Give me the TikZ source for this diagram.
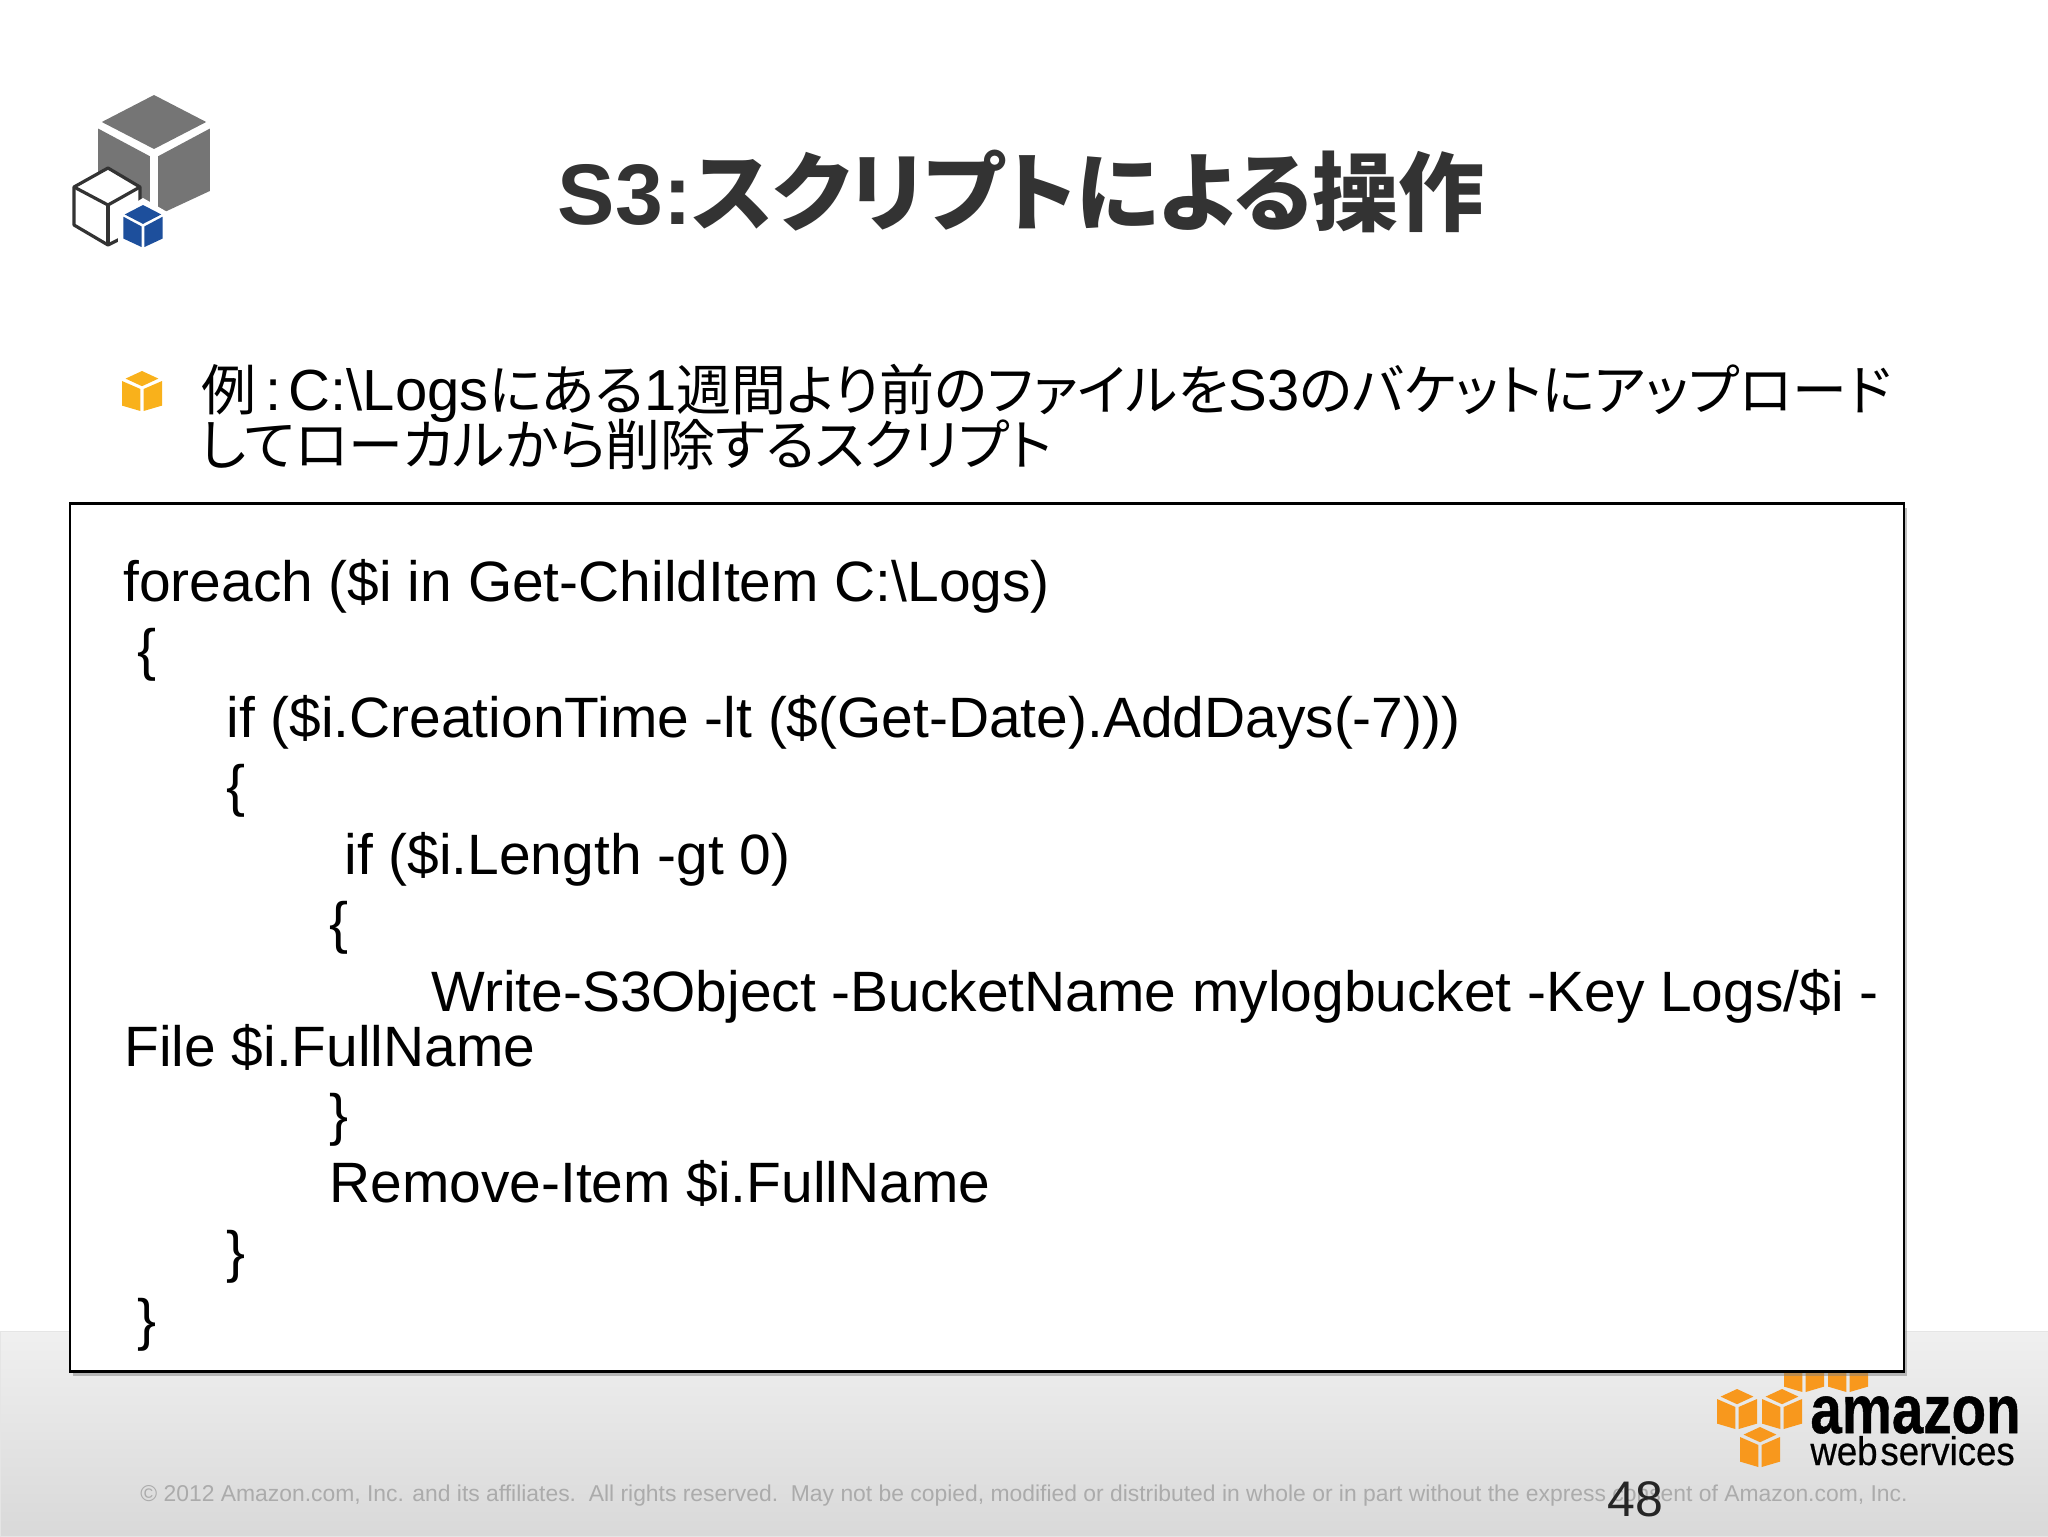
\documentclass[tikz,border=0pt]{standalone}
\usepackage{fontspec}
\setmainfont{Liberation Sans}
\newfontfamily\cjk[RawFeature=+palt]{Noto Sans CJK JP}
\newfontfamily\awsfont[FakeBold=0.5]{Liberation Sans}
\newfontfamily\awsbold[FakeBold=0.8]{Liberation Sans Bold}
\usetikzlibrary{shadows}
\definecolor{cubegray}{HTML}{757575}
\definecolor{cubeblue}{HTML}{1D4F9C}
\definecolor{cubeyellow}{HTML}{F9B11B}
\definecolor{cubeorange}{HTML}{F8981D}
\definecolor{titlegray}{HTML}{333333}
\definecolor{footgray}{HTML}{ABABAB}
\def\isocube[#1](#2,#3)(#4){
	\begin{scope}[shift={(#2,#3)},x={#4*0.5pt},y={-#4*0.5pt}]
		\fill[#1] (0,-1) -- (.87,-.55) -- (0,-.1) -- (-.87,-.55) -- cycle;
		\fill[#1] (-.93,-.44) -- (-.07,.02) -- (-.07,1) -- (-.93,.6) -- cycle;
		\fill[#1] (.93,-.44) -- (.07,.02) -- (.07,1) -- (.93,.6) -- cycle;
	\end{scope}
}
\def\boxcube[#1](#2,#3)(#4){
	\begin{scope}[shift={(#2,#3)},x={#4*0.5pt},y={-#4*0.5pt}]
		\fill[#1] (0,-1) -- (.82,-.62) -- (0,-.24) -- (-.82,-.62) -- cycle;
		\fill[#1] (-1,-.5) -- (-.08,-.1) -- (-.08,1) -- (-1,.73) -- cycle;
		\fill[#1] (1,-.5) -- (.08,-.1) -- (.08,1) -- (1,.73) -- cycle;
	\end{scope}
}
\tikzset{
	titletext/.style={inner sep=0pt, font=\fontsize{43}{51}\selectfont\bfseries, text=titlegray},
	bodytext/.style={anchor=base west, inner sep=0pt, font=\fontsize{29}{34}\selectfont},
	codeline/.style={anchor=base west, inner sep=0pt, font=\fontsize{28.45}{34}\selectfont},
	codebox/.style={draw=black, line width=1.2pt, fill=white, inner sep=0pt,
		drop shadow={shadow xshift=1.5pt, shadow yshift=-2pt, opacity=.5}},
}
\newcommand{\jptext}[1]{{\cjk\fontsize{27.5}{34}\selectfont #1}}
\begin{document}
\begin{tikzpicture}[x=0.5pt,y=-0.5pt]
	\useasboundingbox (0,0) rectangle (2048,1536);
	
	%%%%% footer band
	\draw[draw=black!10, top color=black!6, bottom color=black!15] (0,1331) rectangle (2048,1536);
	
	%%%%% title icon
	\isocube[cubegray](154,155)(60)
	\draw[line width=1.6pt, draw=black!80, fill=white, line join=round]
		(108,168) -- (140,187) -- (140,228) -- (122,238) -- (108,245) -- (74,225) -- (74,187) -- cycle;
	\draw[line width=1.6pt, draw=black!80] (74,187) -- (108,205) -- (140,187);
	\draw[line width=1.6pt, draw=black!80] (108,205) -- (108,245);
	\fill[white] (143,198) -- (169,213) -- (169,242) -- (143,257) -- (118,242) -- (118,213) -- cycle;
	\isocube[cubeblue](143,226)(21)
	
	\node[titletext] (title) at (1021,191) {S3:{\cjk スクリプトによる操作}};
	
	%%%%% bullet and text
	\boxcube[cubeyellow](142,391)(20)
	\node[bodytext] (bodyone) at (201,410) {\jptext{例}\hspace{.15em}:\hspace{.13em}C:\textbackslash Logs\jptext{にある}1\jptext{週間より前のファイルを}S3\jptext{のバケットにアップロード}};
	\node[bodytext] (bodytwo) at (199,465) {\jptext{してローカルから削除するスクリプト}};
	
	%%%%% logo cubes behind the box
	\boxcube[cubeorange](1804,1372)(20)
	\boxcube[cubeorange](1848,1372)(20)
	
	\node[codebox, minimum width=917pt, minimum height=434pt] (logbox) at (987,937.5) {};
	
	\node[codeline] (lineone) at (123,601) {foreach (\$i in Get-ChildItem C:\textbackslash Logs)};
	\node[codeline] (linetwo) at (137,669) {\{};
	\node[codeline] (linethree) at (226,737) {if (\$i.CreationTime -lt (\$(Get-Date).AddDays(-7)))};
	\node[codeline] (linefour) at (226,805) {\{};
	\node[codeline] (linefive) at (344,874) {if (\$i.Length -gt 0)};
	\node[codeline] (linesix) at (329,942) {\{};
	\node[codeline] (lineseven) at (431,1011) {Write-S3Object -BucketName mylogbucket -Key Logs/\$i -};
	\node[codeline] (lineeight) at (124,1066) {File \$i.FullName};
	\node[codeline] (linenine) at (329,1134) {\}};
	\node[codeline] (lineten) at (329,1202) {Remove-Item \$i.FullName};
	\node[codeline] (lineeleven) at (226,1271) {\}};
	\node[codeline] (linetwelve) at (137,1339) {\}};
	
	%%%%% logo
	\boxcube[cubeorange](1737,1409)(20)
	\boxcube[cubeorange](1782,1409)(20)
	\boxcube[cubeorange](1760,1447)(20)
	\node[anchor=base west, inner sep=0pt] (amazon) at (1810,1433) {\scalebox{.83}[1]{\fontsize{34}{40}\selectfont\awsbold amazon}};
	\node[anchor=base west, inner sep=0pt] (webservices) at (1810,1465) {\scalebox{.915}[1]{\fontsize{20}{24}\selectfont\awsfont\spaceskip=.08em web services}};
	
	%%%%% copyright and page number
	\node[anchor=base west, inner sep=0pt, text=footgray, font=\fontsize{11.44}{14}\selectfont] (copyright) at (140,1501)
		{© 2012 Amazon.com, Inc. and its affiliates.\ \ All rights reserved.\ \ May not be copied, modified or distributed in whole or in part without the express consent of Amazon.com, Inc.};
	\node[anchor=base west, inner sep=0pt, font=\fontsize{25}{30}\selectfont, text=black!85] (pagenum) at (1607,1516) {48};
\end{tikzpicture}
\end{document}
